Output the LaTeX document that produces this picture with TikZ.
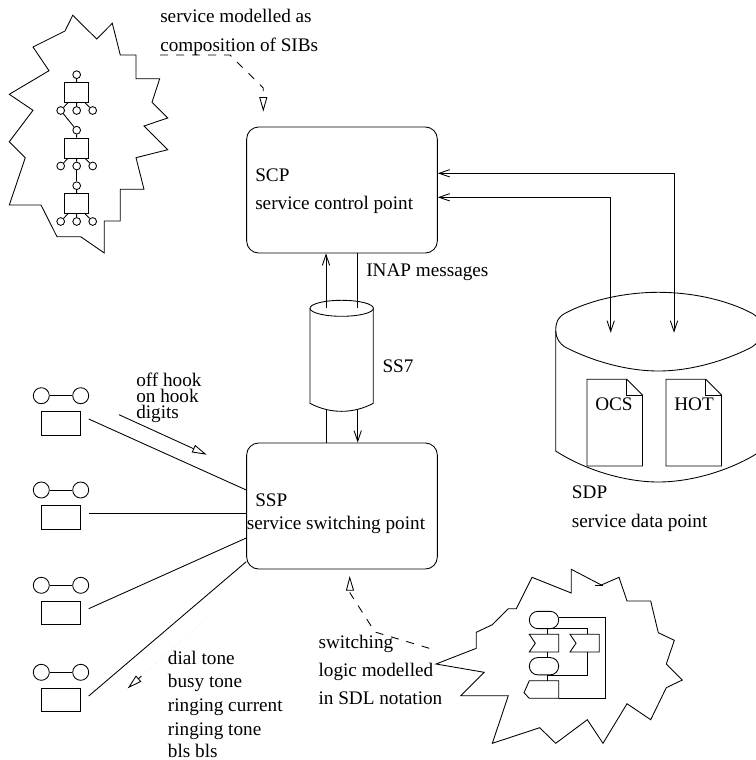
\documentclass[tikz,border=0pt]{standalone}
\usepackage{fontspec}
\setmainfont{Liberation Serif}
\usepackage{xcolor}
\usetikzlibrary{arrows.meta,calc}
\tikzset{
  lnk/.style={line width=0.65pt},
  boxnd/.style={draw,lnk,rounded corners=9pt,minimum width=143pt,minimum height=94.5pt,inner sep=0pt},
  lab/.style={anchor=base west,inner sep=0pt,font=\fontsize{14.4}{17}\selectfont},
  ring/.style={draw,lnk,circle,inner sep=0pt,minimum size=12pt},
  sibring/.style={draw,lnk,circle,inner sep=0pt,minimum size=5.8pt},
  sibbox/.style={draw,lnk,inner sep=0pt,minimum width=18.5pt,minimum height=15pt},
  phonebox/.style={draw,lnk,inner sep=0pt,minimum width=29.5pt,minimum height=17.7pt},
  sdlstate/.style={draw,lnk,rounded corners=6.4pt,inner sep=0pt,minimum width=22pt,minimum height=13pt},
  barbtip/.style={lnk,-{Straight Barb[length=8pt,width=5.5pt]}},
  barbboth/.style={lnk,{Straight Barb[length=8pt,width=5.5pt]}-{Straight Barb[length=8pt,width=5.5pt]}},
  opentip/.style={lnk,-{Triangle[open,fill=white,length=11pt,width=6pt]}},
  dashln/.style={opentip,dash pattern=on 6pt off 6pt},
  faintln/.style={dotted,black!25,line width=0.3pt},
}
\begin{document}
\begin{tikzpicture}[x=0.75pt,y=-0.75pt]
  \path[use as bounding box,clip] (0,0) rectangle (756,760);
  % cloud with the SIBs
  \draw[lnk] (72.7,15.3)--(96.7,39)--(112.3,23.3)--(120.3,55)--(136,55)--(136,78.7)--(159.7,78.7)
     --(152,102.3)--(167.7,118)--(144,126)--(167.7,149.7)--(136,157.7)--(144,189.3)--(120.3,189.3)
     --(120.3,221)--(104.3,221)--(104.3,253)--(80.7,236.7)--(57,236.7)--(41,205)--(9.3,205)
     --(25.3,157.7)--(9.3,141.7)--(33,110.3)--(9.3,94.3)--(49,70.7)--(33,47)--(65,31)--cycle;
  \foreach \n/\dy in {1/0,2/55.5,3/111}{
    \node[sibring] (sibtop\n) at (76.7,{74.7+\dy}) {};
    \node[sibbox] (sibbx\n) at (76.5,{92.5+\dy}) {};
    \node[sibring] (sibl\n) at (60.7,{110.5+\dy}) {};
    \node[sibring] (sibm\n) at (76.7,{110.5+\dy}) {};
    \node[sibring] (sibr\n) at (92.7,{110.5+\dy}) {};
    \draw[lnk] (sibtop\n) -- (sibbx\n);
    \draw[lnk] ([xshift=3pt]sibbx\n.south west) -- (sibl\n);
    \draw[lnk] (sibbx\n) -- (sibm\n);
    \draw[lnk] ([xshift=-3pt]sibbx\n.south east) -- (sibr\n);
  }
  \draw[lnk] (sibl1) -- (sibtop2);
  \draw[lnk] (sibm2) -- (sibtop3);
  % the two points
  \node[boxnd] (scp) at (342,190) {};
  \node[boxnd] (ssp) at (342,506) {};
  \node[lab] (scpname) at (255,181.7) {SCP};
  \node[lab] (scptext) at (255,209.3) {service control point};
  \node[lab] (sspname) at (255,506) {SSP};
  \node[lab] (ssptext) at (246.7,529.3) {service switching point};
  % SS7 cylinder
  \draw[lnk] (341.7,308.3) ellipse [x radius=31.7,y radius=8];
  \draw[lnk] (310,308.3) -- (310,403.3) .. controls (330,414) and (353,414) .. (373.3,403.3) -- (373.3,308.3);
  \coordinate (ssTL) at (326,308.3);
  \coordinate (ssTR) at (357.7,308.3);
  \coordinate (ssBL) at (326,410);
  \coordinate (ssBR) at (357.7,410);
  \draw[barbtip] (ssTL) -- (ssTL |- scp.south);
  \draw[lnk] (ssTR) -- (ssTR |- scp.south);
  \draw[lnk] (ssBL) -- (ssBL |- ssp.north);
  \draw[barbtip] (ssBR) -- (ssBR |- ssp.north);
  \node[lab] (inap) at (366,276.7) {INAP messages};
  \node[lab] (ssseven) at (382.3,372.3) {SS7};
  % SDP drum
  \draw[lnk] (555.7,330.7) .. controls (555.7,320) and (560,316) .. (565,313.3)
     .. controls (590,300) and (625,292.3) .. (658.3,292.3) .. controls (692,292.3) and (727,300) .. (752,313.3)
     .. controls (757,316) and (761,320) .. (761,330.7) .. controls (761,338) and (757,344) .. (752,347)
     .. controls (727,360) and (692,371) .. (658.3,371) .. controls (625,371) and (590,360) .. (565,347)
     .. controls (560,344) and (555.7,338) .. cycle;
  \draw[lnk] (555.7,330.7) -- (555.7,451) .. controls (585,470) and (625,482) .. (658.3,482)
     .. controls (692,482) and (732,470) .. (761,451) -- (761,330.7);
  \coordinate (sdpA) at (610.7,332.7);
  \coordinate (sdpB) at (674,332.7);
  \draw[barbboth] (scp.east |- 0,197.3) -| (sdpA);
  \draw[barbboth] (scp.east |- 0,173.3) -| (sdpB);
  % files in the drum
  \foreach \fx/\nm/\fl in {587/ocs/OCS,666/hot/HOT}{
    \draw[lnk] (\fx,379.3) -- ({\fx+39.7},379.3) -- ({\fx+55.5},395) -- ({\fx+55.5},466) -- (\fx,466) -- cycle;
    \draw[lnk] ({\fx+39.7},379.3) -- ({\fx+39.7},395) -- ({\fx+55.5},395);
    \node[lab] (\nm) at ({\fx+8},410.7) {\fl};
  }
  \node[lab] (sdpname) at (571.7,498.3) {SDP};
  \node[lab] (sdptext) at (571.7,527.3) {service data point};
  % telephones
  \foreach \nm/\py/\ly/\ey in {a/395.7/419/490,b/490/513.7/513.7,c/585.3/608.7/538,d/672.3/696/561.7}{
    \node[ring] (\nm L) at (41.3,\py) {};
    \node[ring] (\nm R) at (80.7,\py) {};
    \node[phonebox] (\nm B) at (61,{\py+27.5}) {};
    \draw[lnk] (\nm L) -- (\nm R);
    \coordinate (\nm S) at (88.7,\ly);
    \draw[lnk] (\nm S) -- (ssp.west |- 0,\ey);
  }
  \coordinate (hookS) at (119,414.7);
  \coordinate (hookE) at (206.7,454.7);
  \draw[opentip] (hookS) -- (hookE);
  \foreach \i/\ty/\tx in {1/386.7/off hook,2/402.7/on hook,3/418.7/digits}{
    \node[lab] (hook\i) at (136,\ty) {\tx};
  }
  \coordinate (toneS) at (208.3,616.7);
  \coordinate (toneE) at (127.7,688.3);
  \coordinate (toneM) at ($(toneE)!0.17!(toneS)$);
  \draw[faintln] (toneS) -- (toneM);
  \draw[opentip] (toneM) -- (toneE);
  \foreach \i/\ty/\tx in {1/664/dial tone,2/687.7/busy tone,3/711.7/ringing current,4/735.7/ringing tone,5/757/bls bls}{
    \node[lab] (tone\i) at (167.7,\ty) {\tx};
  }
  % dashed remarks
  \node[lab] (sibtxtA) at (160,22.7) {service modelled as};
  \node[lab] (sibtxtB) at (160,51.7) {composition of SIBs};
  \coordinate (sibS) at (160,55);
  \coordinate (sibE) at (263.3,111.7);
  \draw[dashln] (sibS) -- (230,55) -- (263.3,88) -- (sibE);
  \node[lab] (sdltxtA) at (318.3,648) {switching};
  \node[lab] (sdltxtB) at (318.3,676.7) {logic modelled};
  \node[lab] (sdltxtC) at (318.3,704.5) {in SDL notation};
  \coordinate (sdlS) at (429.3,648.3);
  \coordinate (sdlE) at (349.7,576);
  \draw[dashln] (sdlS) -- (375,632) -- (350,593) -- (sdlE);
  % cloud with the SDL chart
  \draw[lnk] (436,664)--(476.3,648.3)--(476.3,632.3)--(492.3,624.7)--(508.3,608.7)--(516.3,608.7)--(532,577.3)
     --(571.3,593)--(571.3,569.3)--(601.3,585)--(619,577.3)--(627,601)--(650.7,601)--(658.3,632.7)--(674.3,640.3)
     --(666.3,664)--(682.3,680)--(666.3,687.7)--(650.7,719.7)--(627,703.7)--(603,743.3)--(587.3,719.7)
     --(555.7,743.3)--(539.7,727.7)--(492.3,743.3)--(508.3,695.7)--(460.7,695.7)--(484.3,672.3)--cycle;
  \draw[lnk] (595,585) -- (602.7,585);
  \node[sdlstate] (sdlA) at (544,620) {};
  \node[sdlstate] (sdlB) at (544,666.2) {};
  \draw[lnk] (529.3,634.3)--(558.7,634.3)--(558.7,652)--(529.3,652)--(535.3,643.2)--cycle;
  \draw[lnk] (570,634.3)--(599.3,634.3)--(599.3,652)--(570,652)--(576,643.2)--cycle;
  \draw[lnk] (529.3,680.7)--(558.7,680.7)--(558.7,698.3)--(529.3,698.3)--(524,692.7)--cycle;
  \draw[lnk] (sdlA.east |- 0,617.3) -- (605,617.3) -- (605,698.3) -- (558.7,698.3);
  \draw[lnk] (547,628.7) -- (587.7,628.7) -- (587.7,634.3);
  \draw[lnk] (547,628.7) -- (547,634.3);
  \draw[lnk] (547,652) -- (547,657.3);
  \draw[lnk] (587.7,652) -- (587.7,675) -- (547,675);
  \draw[lnk] (547,675) -- (547,680.7);
\end{tikzpicture}
\end{document}
